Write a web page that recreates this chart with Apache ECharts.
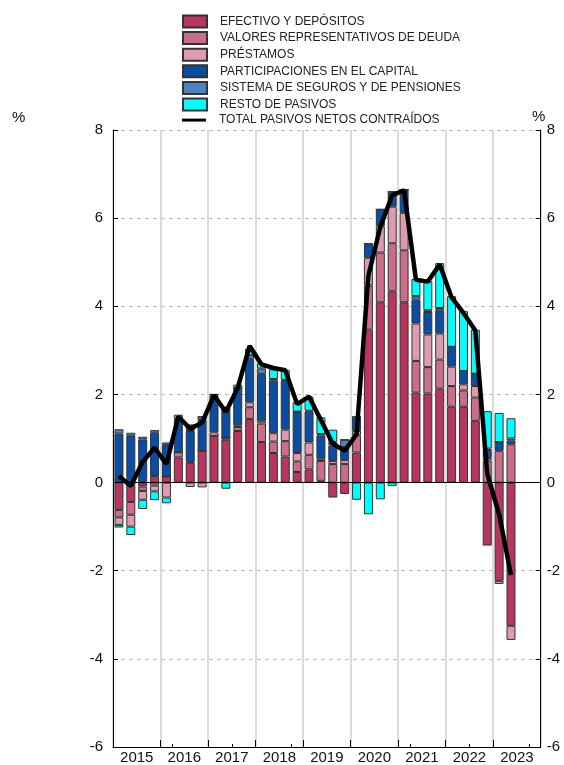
<!DOCTYPE html>
<html>
<head>
<meta charset="utf-8">
<script src="https://cdn.jsdelivr.net/npm/echarts@6/dist/echarts.min.js"></script>
<style>
html,body{margin:0;padding:0;background:#fff;}
#chart{width:564px;height:765px;}
</style>
</head>
<body>
<div id="chart"></div>
<script>
// ---- DATA ----
const years = ['2015','2016','2017','2018','2019','2020','2021','2022','2023'];
const quarterNames = ['I','II','III','IV'];
const yTicks = [-6, -4, -2, 0, 2, 4, 6, 8];

const seriesNames = [
  'EFECTIVO Y DEPÓSITOS',
  'VALORES REPRESENTATIVOS DE DEUDA',
  'PRÉSTAMOS',
  'PARTICIPACIONES EN EL CAPITAL',
  'SISTEMA DE SEGUROS Y DE PENSIONES',
  'RESTO DE PASIVOS',
  'TOTAL PASIVOS NETOS CONTRAÍDOS'
];

// 2015 I .. 2023 II
const efectivo = [-0.62,-0.44,-0.09,0.15, 0.14,0.57,0.45,0.72, 1.06,0.97,1.17,1.44, 0.92,0.67,0.59,0.24,
  0.30,0.04,-0.34,-0.26, 0.68,3.47,4.09,4.34, 4.09,2.04,2.02,2.13, 1.72,1.72,1.40,-1.43, -2.23,-3.25];
const valores = [-0.17,-0.29,-0.10,-0.07, 0.00,0.12,0.02,0.00, 0.00,0.05,0.09,0.27, 0.42,0.26,0.35,0.24,
  0.33,0.45,0.42,0.42, 0.39,1.00,1.13,1.09, 1.18,0.72,0.60,0.66, 0.47,0.37,0.53,0.50, 0.72,0.87];
const prestamos = [-0.17,-0.27,-0.20,-0.13, -0.34,0.00,-0.10,-0.11, 0.08,0.00,0.04,0.11, 0.05,0.19,0.26,0.19,
  0.28,0.05,0.07,0.09, 0.10,0.63,0.59,0.83, 0.85,0.85,0.74,0.59, 0.44,0.14,0.26,0.06, -0.07,-0.32];
const participaciones = [1.11,1.06,0.98,0.98, 0.71,0.70,0.70,0.70, 0.84,0.68,0.85,0.98, 1.07,1.20,1.11,0.93,
  0.70,0.53,0.35,0.30, 0.32,0.32,0.39,0.34, 0.53,0.54,0.51,0.53, 0.45,0.30,0.28,0.18, 0.20,0.08];
const seguros = [0.10,0.07,0.06,0.06, 0.06,0.07,0.10,0.07, 0.02,0.02,0.00,0.09, 0.13,0.03,0.02,0.01,
  0.02,0.03,0.08,0.16, 0.00,0.00,0.00,0.00, 0.00,0.08,0.04,0.05, 0.00,0.00,0.00,0.03, 0.00,0.05];
const resto = [-0.06,-0.19,-0.21,-0.20, -0.13,0.08,0.05,0.00, 0.00,-0.14,0.07,0.15, 0.12,0.22,0.22,0.22,
  0.32,0.38,0.28,0.00, -0.39,-0.72,-0.38,-0.08, 0.00,0.39,0.66,1.02, 1.15,1.36,1.00,0.85, 0.66,0.46];
const total = [0.15,-0.08,0.47,0.79, 0.42,1.50,1.22,1.36, 1.98,1.60,2.15,3.10, 2.68,2.60,2.55,1.78,
  1.95,1.42,0.88,0.72, 1.10,4.70,5.80,6.52, 6.63,4.60,4.56,4.95, 4.20,3.85,3.45,0.20, -0.72,-2.10];

// ---- STYLE ----
const colors = ['#B8365E','#CB6C88','#DE9BAF','#0A4DA2','#4F83C0','#00FFFF','#000000'];
const FONT = '"Liberation Sans", Arial, Helvetica, sans-serif';

const quarters = [];
years.forEach(y => quarterNames.forEach(q => quarters.push(y + ' ' + q)));

const barData = [efectivo, valores, prestamos, participaciones, seguros, resto];

const series = barData.map((d, i) => ({
  name: seriesNames[i],
  type: 'bar',
  stack: 'total',
  xAxisIndex: 0,
  yAxisIndex: 0,
  barWidth: 9,
  data: d,
  itemStyle: { color: colors[i], borderColor: '#333', borderWidth: 1 },
  emphasis: { disabled: true }
}));
series[0].markLine = {
  silent: true,
  symbol: ['none', 'none'],
  label: { show: false },
  lineStyle: { color: '#000', type: 'solid', width: 1 },
  data: [{ yAxis: 0 }]
};
series.push({
  name: seriesNames[6],
  type: 'line',
  xAxisIndex: 0,
  yAxisIndex: 0,
  data: total,
  symbol: 'none',
  z: 10,
  color: '#000',
  lineStyle: { color: '#000', width: 4.5 },
  emphasis: { disabled: true }
});

const legends = seriesNames.map((n, i) => {
  const center = 21.5 + 16.6 * i;
  const isLine = i === 6;
  return {
    data: [n],
    orient: 'vertical',
    left: 182,
    top: center - 7,
    padding: 0,
    itemWidth: 24,
    itemHeight: isLine ? 3 : 12,
    icon: 'rect',
    selectedMode: false,
    textStyle: { fontSize: 12, color: '#222', fontFamily: FONT, padding: [0, 0, 0, 8] }
  };
});

const yAxisBase = {
  type: 'value', min: -6, max: 8, interval: 2,
  axisLine: { show: true, lineStyle: { color: '#000', width: 1 } },
  axisTick: { show: true, inside: true, length: 5, lineStyle: { color: '#000' } },
  axisLabel: { fontSize: 15, color: '#111', fontFamily: FONT,
    formatter: v => (yTicks.indexOf(v) >= 0 ? String(v) : '') }
};

const option = {
  animation: false,
  textStyle: { fontFamily: FONT },
  legend: legends,
  grid: { left: 113, right: 23.3, top: 130, bottom: 16.7, containLabel: false },
  xAxis: [
    {
      type: 'category', data: quarters, position: 'bottom', boundaryGap: true,
      axisLine: { show: true, onZero: false, lineStyle: { color: '#000', width: 1 } },
      axisTick: { show: true, inside: true, length: 3, lineStyle: { color: '#000' } },
      axisLabel: { show: false },
      splitLine: { show: false }
    },
    {
      type: 'category', data: years, position: 'bottom', boundaryGap: true,
      axisLine: { show: false, onZero: false },
      axisTick: { show: true, inside: true, length: 7, lineStyle: { color: '#000' } },
      axisLabel: { fontSize: 15, color: '#111', margin: 3, fontFamily: FONT },
      splitLine: { show: true, lineStyle: { color: '#cfcfcf', width: 1.5 } }
    }
  ],
  yAxis: [
    Object.assign({}, yAxisBase, {
      position: 'left',
      axisLabel: Object.assign({}, yAxisBase.axisLabel, { margin: 10 }),
      splitLine: { show: true, lineStyle: { color: '#bdbdbd', type: [4, 4], width: 1 } }
    }),
    Object.assign({}, yAxisBase, {
      position: 'right',
      axisLabel: Object.assign({}, yAxisBase.axisLabel, { margin: 6 }),
      splitLine: { show: false }
    })
  ],
  graphic: [
    { type: 'text', left: 12, top: 110, style: { text: '%', fontSize: 15, fill: '#111', fontFamily: FONT } },
    { type: 'text', left: 532, top: 109, style: { text: '%', fontSize: 15, fill: '#111', fontFamily: FONT } }
  ],
  series: series
};

const chart = echarts.init(document.getElementById('chart'), null, { renderer: 'canvas' });
chart.setOption(option);
</script>
</body>
</html>
